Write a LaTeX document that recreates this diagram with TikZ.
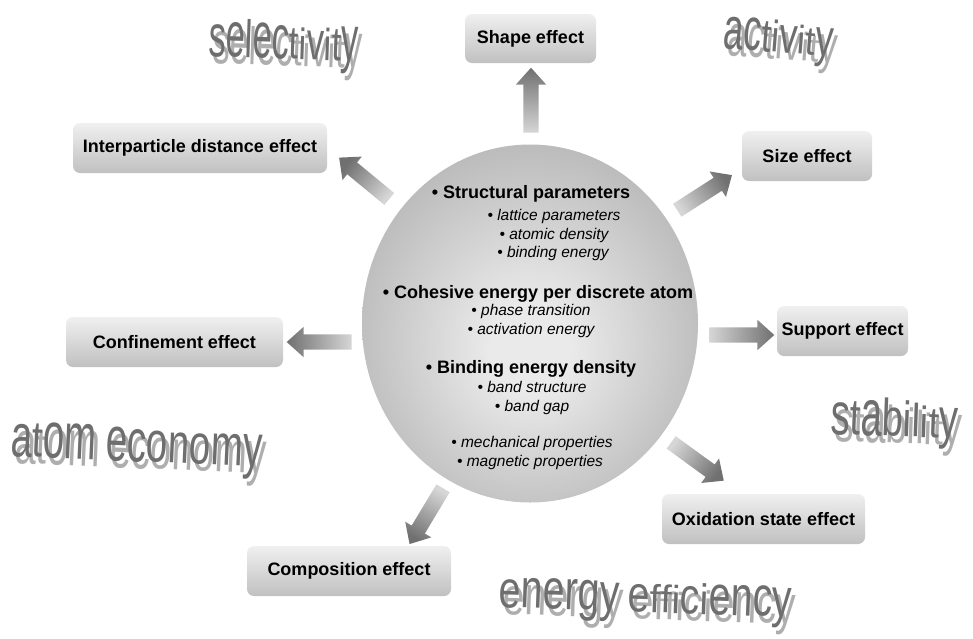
\documentclass[tikz,border=0pt]{standalone}
\usepackage{fontspec}
\setmainfont{Liberation Sans}
\usepackage{graphicx}
\usetikzlibrary{shapes.arrows,shapes.geometric}

\definecolor{ballin}{HTML}{EAEAEA}
\definecolor{ballout}{HTML}{888888}
\definecolor{boxtop}{HTML}{F0F0F0}
\definecolor{boxbot}{HTML}{C0C0C0}
\definecolor{arrlight}{HTML}{D6D6D6}
\definecolor{arrdark}{HTML}{707070}
\definecolor{waD}{HTML}{6E6E6E}
\definecolor{waS}{HTML}{AEAEAE}

\pgfdeclareradialshading{ball}{\pgfpoint{0bp}{-4bp}}{color(0bp)=(ballin); color(6bp)=(ballin); color(50bp)=(ballout)}

\ExplSyntaxOn
\int_new:N \l_wa_int
\fp_new:N \l_wa_fp
% #1 text, #2 xscale, #3 base yscale, #4 amplitude, #5 phase, #6 step
\NewDocumentCommand \wavy { m m m m m m }
 {
  \int_zero:N \l_wa_int
  \tl_map_inline:nn {#1}
   {
    \tl_if_in:nnTF { acemnorsuvwxzgpqy } {##1}
      { \fp_set:Nn \l_wa_fp { 1.25 } }
      { \fp_set:Nn \l_wa_fp { 1 } }
    \scalebox{#2}[ \fp_eval:n { (#3) * \l_wa_fp * ( 1 + (#4) * sind( (#5) + (#6) * \int_use:N \l_wa_int ) ) } ]{##1}
    \int_incr:N \l_wa_int
   }
 }
\ExplSyntaxOff

% #1 name, #2 x, #3 y, #4 size, #5 rotation, #6 content
\newcommand\wordart[6]{%
  \node[wa,text=waS,font=\fontsize{#4}{#4}\selectfont,rotate=#5] (#1s) at ({#2+4},{#3+7}) {#6};
  \node[wa,text=waD,font=\fontsize{#4}{#4}\selectfont,rotate=#5] (#1) at (#2,#3) {#6};
}

\tikzset{
  effbox/.style={rounded corners=7pt, top color=boxtop, bottom color=boxbot, draw=none,
    font=\fontsize{18}{20}\selectfont\bfseries, inner sep=0pt, text=black, minimum height=50pt},
  blockarr/.style={single arrow, draw=none, minimum height=65pt, minimum width=30pt,
    single arrow head extend=7.5pt, single arrow tip angle=84, inner xsep=0pt, inner ysep=7.5pt,
    shading=axis, top color=arrdark, bottom color=arrlight, rotate=#1, shading angle={#1-90}},
  hd/.style={font=\fontsize{18}{20}\selectfont\bfseries, anchor=base, inner sep=0pt},
  itl/.style={font=\fontsize{15.5}{18}\selectfont\itshape, anchor=base, inner sep=0pt},
  wa/.style={anchor=base west, inner sep=0pt}
}

\begin{document}
\begin{tikzpicture}[x=1pt,y=-1pt]
\useasboundingbox (0,0) rectangle (973,638);

% word art
\wordart{sel}{208}{56}{48}{-2}{\wavy{selectivity}{0.72}{1.0}{0.1}{0}{40}}
\wordart{act}{722}{48}{44}{-4.5}{\wavy{activity}{0.82}{1.0}{0.1}{60}{40}}
\wordart{atom}{10}{456}{45}{-2.5}{\wavy{atom}{0.86}{1.08}{0.08}{0}{35}\hspace{0.2em}\wavy{economy}{0.86}{1.08}{0.08}{150}{35}}
\wordart{stab}{830}{434}{48}{-2}{\wavy{stability}{0.8}{1.0}{0.1}{0}{40}}
\wordart{ener}{498}{607}{42}{-2}{\wavy{energy}{0.94}{1.0}{0.08}{0}{35}\hspace{0.2em}\wavy{efficiency}{0.94}{1.0}{0.08}{200}{35}}

% central sphere
\node[ellipse, minimum width=336pt, minimum height=358pt, inner sep=0pt, shading=ball, draw=none] (ball) at (530,323.5) {};

\node[hd] (sp) at (531,198.5) {• Structural parameters};
\node[itl] (lp) at (554,220.5) {• lattice parameters};
\node[itl] (ad) at (554,239.5) {• atomic density};
\node[itl] (be) at (553,257.5) {• binding energy};
\node[hd] (ce) at (538,298.5) {• Cohesive energy per discrete atom};
\node[itl] (pt) at (531,315.5) {• phase transition};
\node[itl] (ae) at (531,334.5) {• activation energy};
\node[hd] (bd) at (531,373.5) {• Binding energy density};
\node[itl] (bs) at (532,392.5) {• band structure};
\node[itl] (bg) at (532,411.5) {• band gap};
\node[itl] (mp) at (532,447.5) {• mechanical properties};
\node[itl] (mg) at (530,466.5) {• magnetic properties};

% effect boxes
\node[effbox, minimum width=131pt, minimum height=49pt] (shape) at (530.5,38.5) {Shape effect};
\node[effbox, minimum width=254pt] (inter) at (200,148) {Interparticle distance effect};
\node[effbox, minimum width=217pt] (conf) at (174.5,342) {Confinement effect};
\node[effbox, minimum width=130pt] (size) at (807,156) {Size effect};
\node[effbox, minimum width=131pt] (supp) at (842.5,331) {Support effect};
\node[effbox, minimum width=203pt] (oxid) at (763.5,519) {Oxidation state effect};
\node[effbox, minimum width=204pt] (comp) at (349,571) {Composition effect};

% block arrows
\node[blockarr=90] (a1) at (531,104.5) {};
\node[blockarr=140.5] (a2) at (367.5,181) {};
\node[blockarr=180] (a3) at (323.5,342) {};
\node[blockarr=32.7] (a4) at (701,195) {};
\node[blockarr=0] (a5) at (737.5,335) {};
\node[blockarr=-36] (a6) at (694,459) {};
\node[blockarr=239] (a7) at (428.5,512.5) {};
\end{tikzpicture}
\end{document}
